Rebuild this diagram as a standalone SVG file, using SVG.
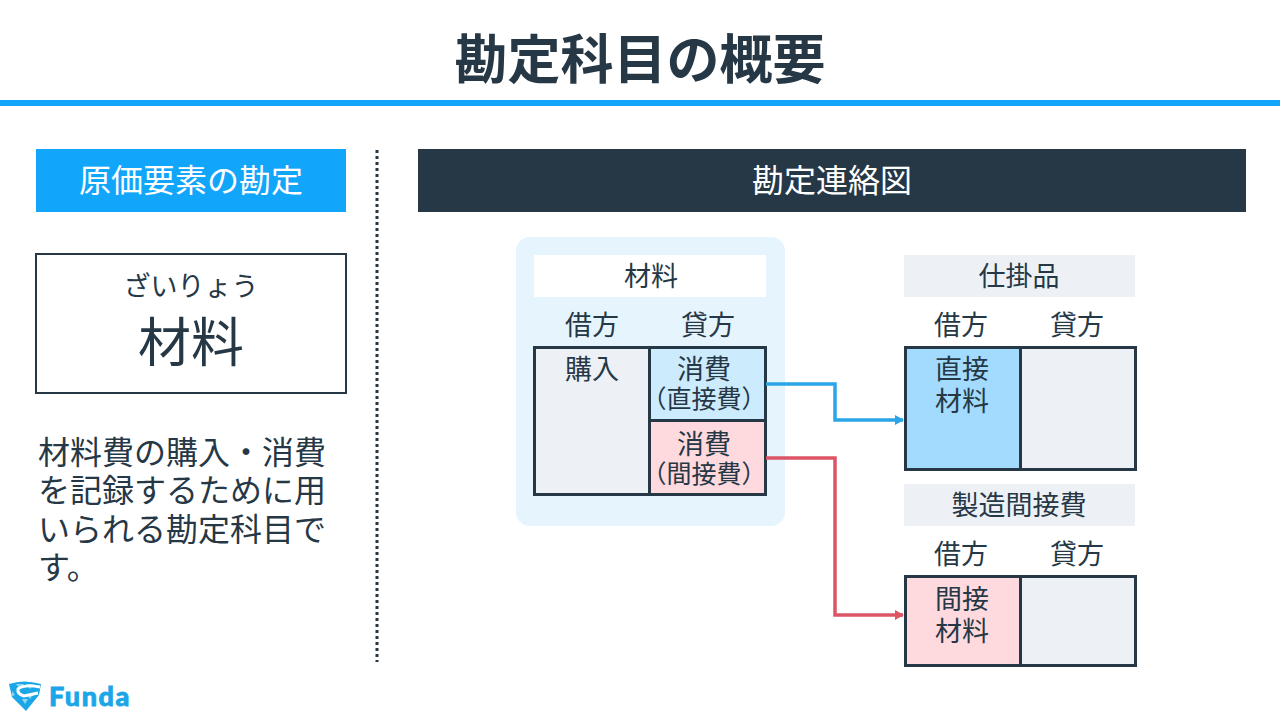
<svg xmlns="http://www.w3.org/2000/svg" width="1280" height="720" viewBox="0 0 1280 720">
<defs>
<style>
text{font-family:"Noto Sans CJK JP","Noto Sans",sans-serif;fill:#263846;text-anchor:middle;font-weight:400}
.c{stroke:#263846;stroke-width:3}
.t{font-size:27px}
.s{font-size:25px}
.d{font-size:32px;text-anchor:start}
.h{font-size:32px;fill:#fff}
.conn{fill:none;stroke-width:3.500}
</style>
<marker id="ab" markerUnits="userSpaceOnUse" markerWidth="9" markerHeight="10" refX="8" refY="5" orient="auto"><path d="M0 0L9 5L0 10Z" fill="#29a5e8"/></marker>
<marker id="ar" markerUnits="userSpaceOnUse" markerWidth="9" markerHeight="10" refX="8" refY="5" orient="auto"><path d="M0 0L9 5L0 10Z" fill="#dc5566"/></marker>
</defs>
<rect width="1280" height="720" fill="#fff"/>
<g id="title"><text x="640" y="79" font-size="53" style="font-weight:700">勘定科目の概要</text><rect y="100" width="1280" height="6" fill="#12a6fb"/></g>
<g id="left-header"><rect x="36" y="149" width="310" height="63" fill="#12a6fb"/><text class="h" x="191" y="192">原価要素の勘定</text></g>
<g id="term"><rect x="36" y="254" width="310" height="139" fill="#fff" stroke="#263846" stroke-width="2"/><text x="191" y="296" font-size="27">ざいりょう</text><text x="191" y="362" font-size="53">材料</text></g>
<g id="description"><text class="d" x="38" y="464">材料費の購入・消費</text><text class="d" x="38" y="502">を記録するために用</text><text class="d" x="38" y="541">いられる勘定科目で</text><text class="d" x="38" y="579">す。</text></g>
<line id="divider" x1="377" y1="150" x2="377" y2="662" stroke="#263846" stroke-width="3" stroke-dasharray="3 3"/>
<g id="right-header"><rect x="418" y="149" width="828" height="63" fill="#263846"/><text class="h" x="832" y="192">勘定連絡図</text></g>
<g id="material">
<rect x="516" y="237" width="269" height="289" rx="14" fill="#e6f4fd"/>
<rect x="534" y="255" width="232" height="42" fill="#fff"/><text class="t" x="651" y="286">材料</text>
<text class="t" x="592" y="335">借方</text><text class="t" x="708" y="335">貸方</text>
<rect class="c" x="534.500" y="347.500" width="115" height="147" fill="#edf1f6"/>
<rect class="c" x="649.500" y="347.500" width="116" height="73" fill="#ccebfd"/>
<rect class="c" x="649.500" y="420.500" width="116" height="74" fill="#fed9de"/>
<text class="t" x="592" y="379">購入</text>
<text class="t" x="704" y="379">消費</text><text class="s" x="704" y="408">（直接費）</text>
<text class="t" x="704" y="454">消費</text><text class="s" x="704" y="483">（間接費）</text>
</g>
<g id="wip">
<rect x="904" y="255" width="231" height="42" fill="#edf1f6"/><text class="t" x="1019" y="286">仕掛品</text>
<text class="t" x="961" y="335">借方</text><text class="t" x="1077" y="335">貸方</text>
<rect class="c" x="905.500" y="347.500" width="115" height="122" fill="#a2dbfd"/>
<rect class="c" x="1020.500" y="347.500" width="115" height="122" fill="#edf1f6"/>
<text class="t" x="962" y="379">直接</text><text class="t" x="962" y="411">材料</text>
</g>
<g id="overhead">
<rect x="904" y="484" width="231" height="42" fill="#edf1f6"/><text class="t" x="1019" y="515">製造間接費</text>
<text class="t" x="961" y="564">借方</text><text class="t" x="1077" y="564">貸方</text>
<rect class="c" x="905.500" y="576.500" width="115" height="89" fill="#fed9de"/>
<rect class="c" x="1020.500" y="576.500" width="115" height="89" fill="#edf1f6"/>
<text class="t" x="962" y="609">間接</text><text class="t" x="962" y="641">材料</text>
</g>
<g id="connectors">
<path class="conn" d="M766 384H835V420H903" stroke="#29a5e8" marker-end="url(#ab)"/>
<path class="conn" d="M766 458H835V615H903" stroke="#dc5566" marker-end="url(#ar)"/>
</g>
<g id="logo">
<path d="M9 684Q24 679 41 684L39 695L26 711L12 697Z" fill="#1ba6e8"/>
<path d="M16 684L20 689L24 684ZM26 684L30 689L34 684ZM12 691L15 695L12 696ZM22 699L25 704L28 699ZM30 699L33 695H27Z" fill="#8fd6f7"/>
<path d="M40 687Q24 684 18 689Q17 694 24 696L38 693" fill="none" stroke="#fff" stroke-width="3"/>
<text x="49" y="706" font-size="27" stroke="#1ba6e8" stroke-width="0.800" style="font-family:Lato,sans-serif;font-weight:900;fill:#1ba6e8;text-anchor:start;letter-spacing:1.500px">Funda</text>
</g>
</svg>
